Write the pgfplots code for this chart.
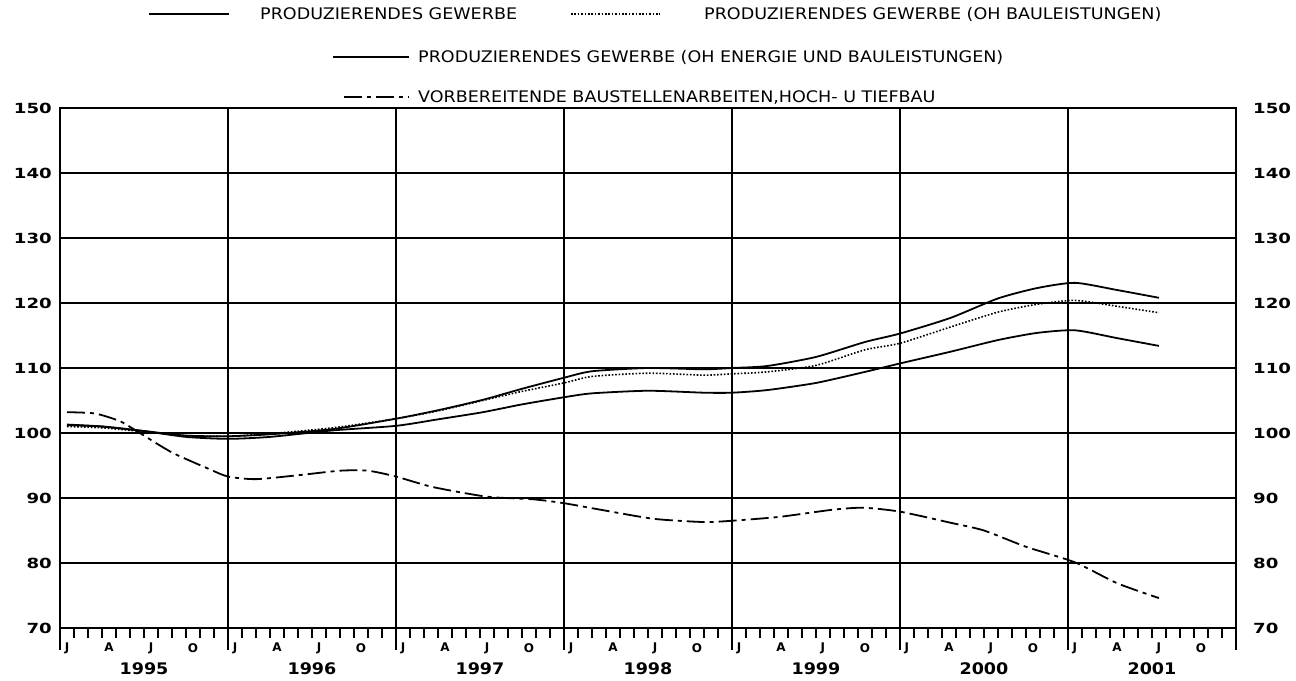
\documentclass[border=0pt]{standalone}
\usepackage{fontspec}
\setmainfont{DejaVu Sans}
\newfontfamily\numfont[FakeStretch=1.3]{DejaVu Sans}
\newfontfamily\yearfont[FakeStretch=1.1]{DejaVu Sans}
\newfontfamily\legfont[FakeStretch=1.1]{DejaVu Sans}
\usepackage{pgfplots}
\usepackage{pgfplotstable}
\pgfplotsset{compat=1.18}

% x = months since Jan 1995 (month centre = m+0.5)
\pgfplotstableread{
x y
0.5 101.3
3 101.0
6 100.3
9 99.4
12 99.1
15 99.4
19.5 100.4
24 101.1
27 102.1
30.2 103.2
33 104.4
36 105.5
38 106.1
42 106.5
46 106.2
48 106.2
50.5 106.6
54 107.7
57.5 109.4
60 110.7
63.6 112.5
67 114.3
69.8 115.4
72.5 115.8
75.5 114.6
78.5 113.4
}\serA

\pgfplotstableread{
x y
0.5 101.0
3 100.8
6 100.2
9 99.6
12 99.5
15 99.9
19.5 100.8
24 102.2
27 103.4
30.2 105.0
33 106.4
36 107.7
38 108.7
42 109.2
46 108.9
48 109.1
50.5 109.4
54 110.4
57.5 112.8
60 113.8
63.6 116.3
67 118.6
69.8 119.8
72.5 120.4
75.5 119.5
78.5 118.5
}\serB

\pgfplotstableread{
x y
0.5 101.2
3 101.0
6 100.3
9 99.6
12 99.5
15 99.8
19.5 100.6
24 102.2
27 103.5
30.2 105.1
33 106.8
36 108.5
38 109.5
42 110.0
46 109.8
48 110.0
50.5 110.3
54 111.7
57.5 114.0
60 115.3
63.6 117.7
67 120.7
69.8 122.3
72.5 123.1
75.5 122.0
78.5 120.8
}\serC

\pgfplotstableread{
x y
0.5 103.2
2.5 103.0
4.3 101.8
5.7 100.0
8 97.0
10.5 94.6
12 93.3
14 92.9
17 93.5
20 94.2
22 94.2
24 93.3
26.6 91.7
30.5 90.2
33.8 89.8
36 89.2
38.6 88.2
42.4 86.8
46 86.3
48 86.5
51.4 87.1
55.2 88.2
57.4 88.5
60 87.9
63.6 86.2
66 85.0
69 82.5
72.5 80.1
75.5 76.9
78.5 74.6
}\serD

\begin{document}
\begin{tikzpicture}
\begin{axis}[
  at={(60bp,53bp)}, anchor=south west,
  scale only axis, width=1176bp, height=520bp,
  xmin=0, xmax=84, ymin=70, ymax=150,
  axis line style={line width=2.2bp, black},
  ytick={70,80,...,150},
  ymajorgrids,
  grid style={line width=1.8bp, black},
  major tick length=0pt,
  minor tick length=10bp,
  tick align=outside,
  xtick pos=bottom, ytick pos=left,
  xtick={0.5,3.5,...,81.5},
  xticklabels={J,A,J,O,J,A,J,O,J,A,J,O,J,A,J,O,J,A,J,O,J,A,J,O,J,A,J,O},
  minor xtick={0,1,...,84},
  tick style={black, line width=1.5bp},
  minor tick style={black, line width=1.5bp},
  extra x ticks={12,24,36,48,60,72},
  extra x tick labels={},
  extra x tick style={grid=major, major tick length=0pt},
  xticklabel shift=15bp,
  yticklabel shift=8bp,
  xticklabel style={font=\bfseries\fontsize{12}{12}\selectfont, inner sep=0pt},
  yticklabel style={font=\numfont\bfseries\fontsize{14}{14}\selectfont, inner sep=0pt},
  /pgf/number format/assume math mode=true,
  clip=false,
]
\addplot[black, line width=1.8bp, smooth, tension=0.4] table[x=x,y=y]{\serA};
\addplot[black, line width=1.6bp, smooth, tension=0.4, dash pattern=on 1.6bp off 1.8bp] table[x=x,y=y]{\serB};
\addplot[black, line width=1.8bp, smooth, tension=0.4] table[x=x,y=y]{\serC};
\addplot[black, line width=1.8bp, smooth, tension=0.4, dash pattern=on 18bp off 5bp on 4bp off 5bp] table[x=x,y=y]{\serD};
\end{axis}

\begin{axis}[
  at={(60bp,53bp)}, anchor=south west,
  scale only axis, width=1176bp, height=520bp,
  xmin=0, xmax=84, ymin=70, ymax=150,
  axis line style={line width=2.2bp, black},
  ytick={70,80,...,150},
  ytick pos=right, yticklabel pos=right,
  xtick pos=bottom,
  xtick={6,18,...,78},
  xticklabels={1995,1996,1997,1998,1999,2000,2001},
  minor xtick={0,12,...,84},
  major tick length=0pt,
  minor tick length=22bp,
  tick align=outside,
  tick style={black, line width=1.5bp},
  minor tick style={black, line width=1.8bp},
  xticklabel shift=34bp,
  yticklabel shift=17bp,
  xticklabel style={font=\yearfont\bfseries\fontsize{16}{16}\selectfont, inner sep=0pt},
  yticklabel style={font=\numfont\bfseries\fontsize{14}{14}\selectfont, inner sep=0pt},
  /pgf/number format/assume math mode=true,
]
\end{axis}

% legend
\begin{scope}[every node/.style={anchor=base west, inner sep=0pt, font=\legfont\fontsize{16}{16}\selectfont}]
\draw[line width=1.8bp] (149bp,667bp) -- (229bp,667bp);
\node at (260bp,661bp) {PRODUZIERENDES GEWERBE};
\draw[line width=1.6bp, dash pattern=on 1.6bp off 1.8bp] (571bp,667bp) -- (660bp,667bp);
\node at (704bp,661bp) {PRODUZIERENDES GEWERBE (OH BAULEISTUNGEN)};
\draw[line width=1.8bp] (333bp,624bp) -- (409bp,624bp);
\node at (418bp,618bp) {PRODUZIERENDES GEWERBE (OH ENERGIE UND BAULEISTUNGEN)};
\draw[line width=1.8bp, dash pattern=on 18bp off 5bp on 4bp off 5bp] (344bp,584bp) -- (409bp,584bp);
\node at (418bp,578bp) {VORBEREITENDE BAUSTELLENARBEITEN,HOCH- U TIEFBAU};
\end{scope}

\pgfresetboundingbox
\path[use as bounding box] (0,0) rectangle (1296bp,681bp);
\end{tikzpicture}
\end{document}
